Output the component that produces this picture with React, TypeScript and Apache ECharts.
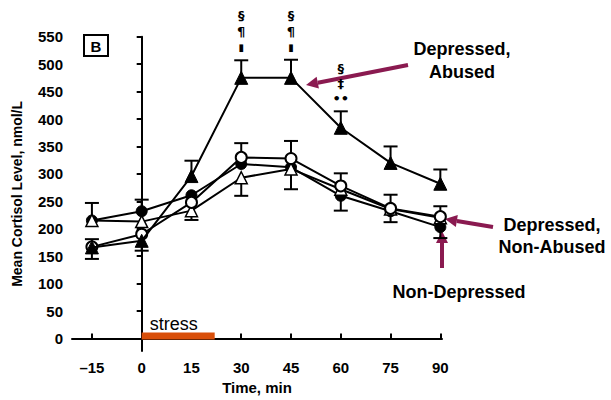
import React, { useEffect, useRef } from "react";
import * as echarts from "echarts";

const times = [-15, 0, 15, 30, 45, 60, 75, 90];
const xTicks = [-15, 0, 15, 30, 45, 60, 75, 90];
const yTicks = [0, 50, 100, 150, 200, 250, 300, 350, 400, 450, 500, 550];

// mean cortisol values (nmol/L)
const depressedAbused = [166, 178, 296, 475, 475, 384, 320, 282];
const nonDepressed = [215, 232, 261, 318, 312, 260, 232, 203];
const depressedNonAbused = [167, 190, 248, 330, 328, 278, 237, 222];
const otherGroup = [215, 213, 233, 293, 309, 272, 236, 220];

// SEM and whisker direction (1 up, -1 down, 0 none)
const semAbused = [21, 18, 28, 32, 33, 30, 30, 26];
const dirAbused = [-1, -1, 1, 1, 1, 1, 1, 1];
const semNonDep = [0, 21, 0, 0, 0, 27, 20, 20];
const dirNonDep = [0, 1, 0, 0, 0, -1, -1, -1];
const semDepNA = [14, 0, 0, 26, 32, 23, 25, 19];
const dirDepNA = [1, 0, 0, 1, 1, 1, 1, 1];
const semOther = [32, 0, 17, 33, 37, 0, 0, 0];
const dirOther = [1, 0, -1, -1, -1, 0, 0, 0];

const stressPeriod = [0, 22];

// significance marks [time, value, text]
const sigMarks: [number, number, string][] = [
  [30, 589, "§"], [30, 560, "¶"], [30, 530, "▮"],
  [45, 589, "§"], [45, 560, "¶"], [45, 530, "▮"],
  [60, 492, "§"], [60, 464, "‡"], [60, 437, "••"],
];

const ARROW = "#8a1a50";
const FONT = "Liberation Sans, Arial, sans-serif";
const SYMFONT = "DejaVu Sans";

function errData(vals: number[], sem: number[], dir: number[]) {
  const out: number[][] = [];
  times.forEach((t, i) => {
    if (dir[i] !== 0) out.push([t, vals[i], vals[i] + dir[i] * sem[i]]);
  });
  return out;
}

const errorRender = (params: any, api: any) => {
  const x = api.value(0);
  const p0 = api.coord([x, api.value(1)]);
  const p1 = api.coord([x, api.value(2)]);
  const w = 7;
  return {
    type: "group",
    children: [
      { type: "line", shape: { x1: p0[0], y1: p0[1], x2: p1[0], y2: p1[1] }, style: { stroke: "#000", lineWidth: 2 } },
      { type: "line", shape: { x1: p1[0] - w, y1: p1[1], x2: p1[0] + w, y2: p1[1] }, style: { stroke: "#000", lineWidth: 2 } },
    ],
  };
};

function arrow(x1: number, y1: number, x2: number, y2: number) {
  const ang = Math.atan2(y2 - y1, x2 - x1);
  const L = 12, W = 6;
  const bx = x2 - L * Math.cos(ang), by = y2 - L * Math.sin(ang);
  const nx = -Math.sin(ang) * W, ny = Math.cos(ang) * W;
  return [
    { type: "line", shape: { x1, y1, x2: bx, y2: by }, style: { stroke: ARROW, lineWidth: 4 } },
    { type: "polygon", shape: { points: [[x2, y2], [bx + nx, by + ny], [bx - nx, by - ny]] }, style: { fill: ARROW } },
  ];
}

export default function App() {
  const ref = useRef<HTMLDivElement>(null);
  useEffect(() => {
    const chart = echarts.init(ref.current!, null, { renderer: "svg" });
    const lineSeries = (name: string, data: number[], symbol: string, size: number, fill: string, bw: number, z: number) => ({
      type: "line",
      name,
      data: times.map((t, i) => [t, data[i]]),
      symbol,
      symbolSize: size,
      showSymbol: true,
      lineStyle: { color: "#000", width: 2 },
      itemStyle: { color: fill, borderColor: "#000", borderWidth: bw },
      z,
    });
    const errSeries = (d: number[][]) => ({
      type: "custom",
      data: d,
      renderItem: errorRender,
      z: 3,
      clip: false,
    });
    chart.setOption({
      animation: false,
      backgroundColor: "#fff",
      grid: { left: 72, right: 169, top: 36.7, bottom: 47.3 },
      xAxis: {
        type: "value",
        min: -21,
        max: 90.5,
        name: "Time, min",
        nameLocation: "middle",
        nameGap: 27,
        nameTextStyle: { fontFamily: FONT, fontWeight: "bold", fontSize: 15, color: "#000" },
        axisLine: { lineStyle: { color: "#000", width: 2 } },
        axisTick: { inside: true, length: 5, customValues: xTicks, lineStyle: { color: "#000", width: 2 } },
        axisLabel: { customValues: xTicks, margin: 9, fontFamily: FONT, fontWeight: "bold", fontSize: 15, color: "#000", formatter: (v: number) => (v < 0 ? "\u2013" + Math.abs(v) : String(v)) },
        splitLine: { show: false },
      },
      yAxis: {
        type: "value",
        min: -23,
        max: 550,
        name: "Mean Cortisol Level, nmol/L",
        nameLocation: "middle",
        nameGap: 48,
        nameTextStyle: { fontFamily: FONT, fontWeight: "bold", fontSize: 14, color: "#000" },
        axisLine: { show: true, lineStyle: { color: "#000", width: 2 } },
        axisTick: { show: true, length: 5, customValues: yTicks, lineStyle: { color: "#000", width: 2 } },
        axisLabel: { customValues: yTicks, margin: 9, fontFamily: FONT, fontWeight: "bold", fontSize: 15, color: "#000" },
        splitLine: { show: false },
      },
      series: [
        errSeries(errData(depressedAbused, semAbused, dirAbused)),
        errSeries(errData(nonDepressed, semNonDep, dirNonDep)),
        errSeries(errData(depressedNonAbused, semDepNA, dirDepNA)),
        errSeries(errData(otherGroup, semOther, dirOther)),
        lineSeries("Non-Depressed", nonDepressed, "circle", 11, "#000", 1, 5),
        lineSeries("Other", otherGroup, "triangle", 12, "#fff", 1.5, 6),
        lineSeries("Depressed, Non-Abused", depressedNonAbused, "circle", 11, "#fff", 2, 7),
        lineSeries("Depressed, Abused", depressedAbused, "triangle", 13, "#000", 1, 8),
        {
          type: "custom",
          data: [stressPeriod],
          clip: false,
          z: 4,
          renderItem: (params: any, api: any) => {
            const a = api.coord([api.value(0), 0]);
            const b = api.coord([api.value(1), 0]);
            return {
              type: "group",
              children: [
                { type: "rect", shape: { x: a[0], y: a[1] - 6, width: b[0] - a[0], height: 7 }, style: { fill: "#d94f0a" } },
                { type: "text", style: { x: a[0] + 8, y: a[1] - 5, text: "stress", fontFamily: FONT, fontSize: 18, fill: "#000", textVerticalAlign: "bottom" } },
              ],
            };
          },
        },
        {
          type: "custom",
          data: sigMarks,
          clip: false,
          z: 9,
          renderItem: (params: any, api: any) => {
            const p = api.coord([api.value(0), api.value(1)]);
            const d = sigMarks[params.dataIndex];
            return {
              type: "text",
              style: { x: p[0], y: p[1], text: d[2], fontFamily: SYMFONT, fontWeight: "bold", fontSize: d[2] === "▮" ? 10 : 13, fill: "#000", align: "center", verticalAlign: "middle" },
            };
          },
        },
      ],
      graphic: [
        { type: "rect", shape: { x: 84, y: 35, width: 24, height: 21 }, style: { fill: "#fff", stroke: "#000", lineWidth: 2 } },
        { type: "text", x: 96, y: 46, style: { text: "B", fontFamily: FONT, fontWeight: "bold", fontSize: 15, fill: "#000", align: "center", verticalAlign: "middle" } },
        { type: "text", x: 462, y: 49, style: { text: "Depressed,", fontFamily: FONT, fontWeight: "bold", fontSize: 18, fill: "#000", align: "center", verticalAlign: "middle" } },
        { type: "text", x: 462, y: 72, style: { text: "Abused", fontFamily: FONT, fontWeight: "bold", fontSize: 18, fill: "#000", align: "center", verticalAlign: "middle" } },
        { type: "text", x: 552, y: 225, style: { text: "Depressed,", fontFamily: FONT, fontWeight: "bold", fontSize: 18, fill: "#000", align: "center", verticalAlign: "middle" } },
        { type: "text", x: 552, y: 247, style: { text: "Non-Abused", fontFamily: FONT, fontWeight: "bold", fontSize: 18, fill: "#000", align: "center", verticalAlign: "middle" } },
        { type: "text", x: 459, y: 292, style: { text: "Non-Depressed", fontFamily: FONT, fontWeight: "bold", fontSize: 18, fill: "#000", align: "center", verticalAlign: "middle" } },
        ...arrow(408, 65, 306, 85),
        ...arrow(493, 227, 445, 219),
        ...arrow(442, 268, 442, 231),
      ],
    });
    return () => chart.dispose();
  }, []);
  return <div ref={ref} style={{ width: 611, height: 400, position: "absolute", left: 0, top: 0 }} />;
}
